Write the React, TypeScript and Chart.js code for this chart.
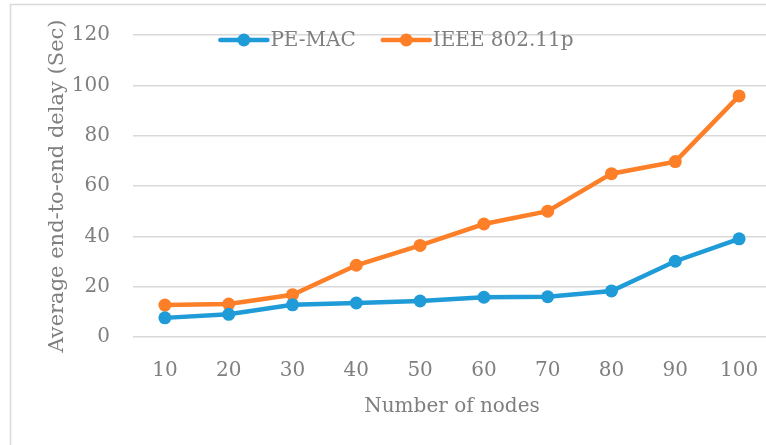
import React, { useEffect, useRef } from "react";
import { Chart, registerables } from "chart.js";

Chart.register(...registerables);

const categories = ["10", "20", "30", "40", "50", "60", "70", "80", "90", "100"];
const peMac = [7.6, 9.0, 12.8, 13.5, 14.3, 15.8, 16.0, 18.3, 30.1, 39.0];
const ieee = [12.7, 13.1, 16.8, 28.5, 36.4, 44.9, 50.0, 64.9, 69.7, 95.8];
const seriesNames = ["PE-MAC", "IEEE 802.11p"];
const seriesColors = ["#1f9bd7", "#fd7f28"];
const yMin = 0;
const yMax = 120;
const yStep = 20;
const xTitle = "Number of nodes";
const yTitle = "Average end-to-end delay (Sec)";

const FONT = "'DejaVu Serif', serif";
const TEXT = "#7f7f7f";
const GRID = "#d9d9d9";

const frameAndLegend = {
  id: "frameAndLegend",
  beforeDraw(chart: any) {
    const ctx = chart.ctx;
    ctx.save();
    ctx.strokeStyle = GRID;
    ctx.lineWidth = 1.5;
    ctx.strokeRect(10.5, 4.5, 900, 600);
    ctx.restore();
  },
  afterDraw(chart: any) {
    const ctx = chart.ctx;
    ctx.save();
    ctx.font = `20px ${FONT}`;
    const lineLen = 47;
    const gapText = 3;
    const gapItem = 27;
    const widths = chart.data.datasets.map(
      (d: any) => lineLen + gapText + ctx.measureText(d.label).width
    );
    const total = widths.reduce((a: number, b: number) => a + b, 0) + gapItem * (widths.length - 1);
    let x = 397 - total / 2;
    const y = 40;
    chart.data.datasets.forEach((d: any, i: number) => {
      ctx.strokeStyle = d.borderColor;
      ctx.lineWidth = 4.5;
      ctx.lineCap = "round";
      ctx.beginPath();
      ctx.moveTo(x, y);
      ctx.lineTo(x + lineLen, y);
      ctx.stroke();
      ctx.fillStyle = d.borderColor;
      ctx.beginPath();
      ctx.arc(x + lineLen / 2, y, 6.5, 0, Math.PI * 2);
      ctx.fill();
      ctx.fillStyle = TEXT;
      ctx.textBaseline = "middle";
      ctx.textAlign = "left";
      ctx.fillText(d.label, x + lineLen + gapText, y + 1);
      x += widths[i] + gapItem;
    });
    ctx.restore();
  },
};

export default function App() {
  const ref = useRef<HTMLCanvasElement | null>(null);

  useEffect(() => {
    if (!ref.current) return;
    const mk = (i: number, data: number[]) => ({
      label: seriesNames[i],
      data,
      borderColor: seriesColors[i],
      backgroundColor: seriesColors[i],
      borderWidth: 4.5,
      pointRadius: 6.5,
      pointHoverRadius: 6.5,
      pointBorderWidth: 0,
      tension: 0,
    });
    const chart = new Chart(ref.current, {
      type: "line",
      data: {
        labels: categories,
        datasets: [mk(0, peMac), mk(1, ieee)],
      },
      options: {
        animation: false,
        responsive: false,
        devicePixelRatio: 1,
        layout: { padding: { left: 0, right: 29, top: 32, bottom: 0 } },
        plugins: {
          legend: { display: false },
          tooltip: { enabled: false },
        },
        scales: {
          x: {
            offset: true,
            grid: { display: false, drawTicks: false },
            border: { display: false },
            ticks: { color: TEXT, font: { family: FONT, size: 20 }, padding: 22 },
            title: {
              display: true,
              text: xTitle,
              color: TEXT,
              font: { family: FONT, size: 20 },
              padding: { top: 0, bottom: 41 },
            },
            afterFit: (s: any) => {
              s.height = 123;
            },
          },
          y: {
            min: yMin,
            max: yMax,
            ticks: {
              stepSize: yStep,
              color: TEXT,
              font: { family: FONT, size: 20 },
              padding: 23,
            },
            grid: { color: GRID, lineWidth: 1.5, drawTicks: false },
            border: { display: false },
            title: {
              display: true,
              text: yTitle,
              color: TEXT,
              font: { family: FONT, size: 21 },
              padding: { top: 45, bottom: 0 },
            },
            afterFit: (s: any) => {
              s.width = 133;
            },
          },
        },
      },
      plugins: [frameAndLegend],
    });
    return () => chart.destroy();
  }, []);

  return (
    <div
      style={{
        position: "fixed",
        left: 0,
        top: 0,
        width: 766,
        height: 445,
        overflow: "hidden",
        background: "#fff",
      }}
    >
      <canvas ref={ref} width={800} height={460} style={{ display: "block" }} />
    </div>
  );
}
